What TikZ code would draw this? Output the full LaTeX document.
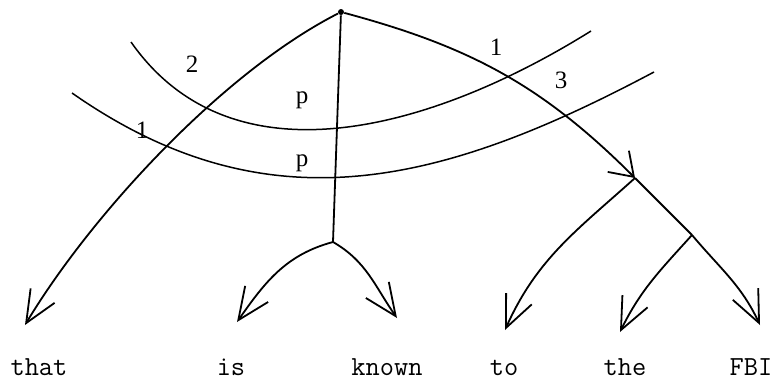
\documentclass[tikz,border=0pt]{standalone}
\usepackage{fontspec}
\usetikzlibrary{arrows.meta}
\newfontfamily\seriffam{Liberation Serif}
\newcommand{\wordfont}{\ttfamily\fontsize{13.8pt}{16pt}\selectfont}
\newcommand{\idxfont}{\seriffam\fontsize{12.5pt}{14pt}\selectfont}
\tikzset{
  branch/.style={-{Straight Barb[length=16pt,width=14pt]}, line width=0.9pt},
  joinarr/.style={-{Straight Barb[length=11pt,width=15pt]}, line width=0.9pt},
  plain/.style={line width=0.9pt},
  arcln/.style={line width=0.75pt},
  rootdot/.style={circle, fill, inner sep=0pt, minimum size=3pt},
  word/.style={font=\wordfont, anchor=base},
  idx/.style={font=\idxfont},
}
\begin{document}
\begin{tikzpicture}[x=0.5pt,y=0.5pt]
\useasboundingbox (0,0) rectangle (778,382);

% ---- tree points
\node[rootdot] (root) at (341,370) {};
\coordinate (stem) at (333,140);
\coordinate (split) at (635,204);
\coordinate (fork) at (692,147);

% ---- words
\node[word] (that)  at (39,7)  {that};
\node[word] (is)    at (231,7) {is};
\node[word] (known) at (387,7) {known};
\node[word] (to)    at (504,7) {to};
\node[word] (the)   at (625,7) {the};
\node[word] (fbi)   at (751,7) {FBI};

% arrow ends above the words
\coordinate (e-that)  at (25,57);
\coordinate (e-is)    at (237,60);
\coordinate (e-known) at (397,64);
\coordinate (e-to)    at (505,52);
\coordinate (e-the)   at (620,50);
\coordinate (e-fbi)   at (760,57);

% ---- branches
\draw[branch] (root) to[out=207,in=59,looseness=0.75] (e-that);
\draw[plain] (root) -- (stem);
\draw[branch] (stem) to[out=195,in=55] (e-is);
\draw[branch] (stem) to[out=-30,in=125] (e-known);
\draw[joinarr] (root) to[out=-15,in=135] (split);
\draw[plain] (split) -- (fork);
\draw[branch] (split) to[out=222,in=66] (e-to);
\draw[branch] (fork) to[out=228,in=64] (e-the);
\draw[branch] (fork) to[out=-50,in=115] (e-fbi);

% ---- scope arcs
\coordinate (upL) at (131,340);
\coordinate (upR) at (591,351);
\coordinate (loL) at (72,289);
\coordinate (loR) at (654,310);
\draw[arcln] (upL) to[out=-55,in=212] (upR);
\draw[arcln] (loL) to[out=-35,in=208,looseness=1.05] (loR);

% ---- indices
\node[idx] (n2)  at (192,318) {2};
\node[idx] (n1l) at (142,252) {1};
\node[idx] (pu)  at (302,282) {p};
\node[idx] (pl)  at (302,219) {p};
\node[idx] (n1r) at (496,335) {1};
\node[idx] (n3)  at (561,302) {3};

\end{tikzpicture}
\end{document}
